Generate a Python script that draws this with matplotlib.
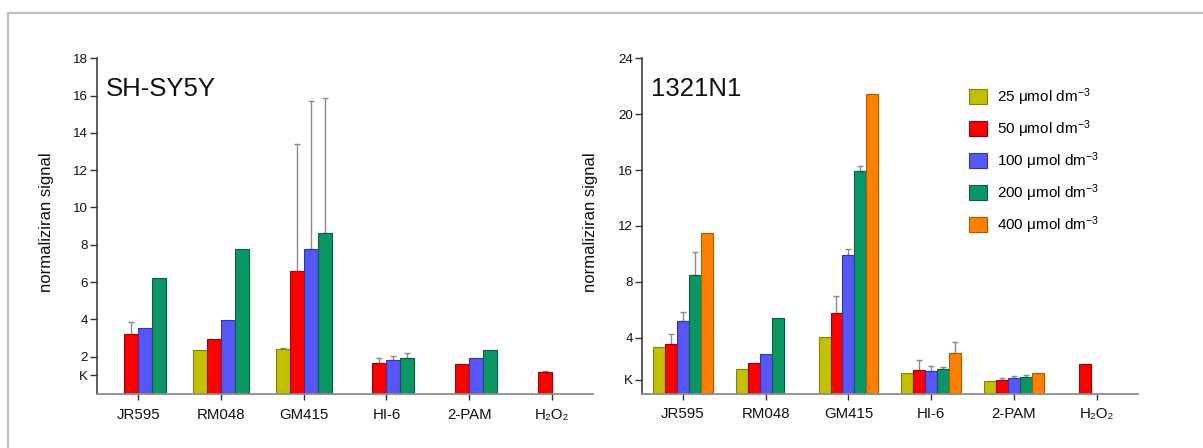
import numpy as np
import matplotlib
matplotlib.use("Agg")
import matplotlib.pyplot as plt
from matplotlib.lines import Line2D
from matplotlib.patches import Patch

plt.rcParams['font.family'] = ['Liberation Sans', 'DejaVu Sans']
plt.rcParams['mathtext.fontset'] = 'custom'
plt.rcParams['mathtext.rm'] = 'Liberation Sans'
plt.rcParams['mathtext.it'] = 'Liberation Sans'

nan = np.nan
categories = ["JR595", "RM048", "GM415", "HI-6", "2-PAM", "H₂O₂"]
series_labels = ["25 μmol dm$^{-3}$", "50 μmol dm$^{-3}$", "100 μmol dm$^{-3}$",
                 "200 μmol dm$^{-3}$", "400 μmol dm$^{-3}$"]
fill_colors = ["#C2C000", "#FF0000", "#5757F7", "#0B9663", "#FF8000"]
edge_colors = ["#858300", "#A00000", "#3535A8", "#06603F", "#B05A00"]

# SH-SY5Y (left panel): 25, 50, 100, 200
left_25 = [nan, 2.36, 2.40, nan, nan, nan]
left_50 = [3.20, 2.95, 6.60, 1.66, 1.61, 1.18]
left_100 = [3.56, 3.95, 7.78, 1.82, 1.91, nan]
left_200 = [6.20, 7.78, 8.64, 1.93, 2.34, nan]
left_err_25 = [nan, nan, 0.08, nan, nan, nan]
left_err_50 = [0.68, nan, 6.83, 0.25, nan, 0.03]
left_err_100 = [nan, nan, 7.95, 0.22, nan, nan]
left_err_200 = [nan, nan, 7.22, 0.27, nan, nan]

# 1321N1 (right panel): 25, 50, 100, 200, 400
right_25 = [3.34, 1.76, 4.05, 1.50, 0.90, nan]
right_50 = [3.55, 2.19, 5.77, 1.69, 0.97, 2.12]
right_100 = [5.20, 2.83, 9.92, 1.62, 1.12, nan]
right_200 = [8.49, 5.41, 15.93, 1.78, 1.19, nan]
right_400 = [11.52, nan, 21.45, 2.88, 1.47, nan]
right_err_25 = [nan, nan, nan, nan, nan, nan]
right_err_50 = [0.70, nan, 1.19, 0.71, 0.12, nan]
right_err_100 = [0.62, nan, 0.43, 0.36, 0.14, nan]
right_err_200 = [1.67, nan, 0.34, 0.15, 0.12, nan]
right_err_400 = [nan, nan, nan, 0.79, nan, nan]

left_ticks = [1, 2, 4, 6, 8, 10, 12, 14, 16, 18]
left_ticklabels = ["K", "2", "4", "6", "8", "10", "12", "14", "16", "18"]
right_ticks = [1, 4, 8, 12, 16, 20, 24]
right_ticklabels = ["K", "4", "8", "12", "16", "20", "24"]

W, H = 1203, 448
fig = plt.figure(figsize=(W / 100, H / 100), dpi=100)
fig.patch.set_facecolor("white")

# figure frame lines (top and left)
fig.add_artist(Line2D([7.5 / W, 1.0], [1 - 13 / H, 1 - 13 / H], transform=fig.transFigure,
                      color="#C0C0C0", lw=1.6))
fig.add_artist(Line2D([7.5 / W, 7.5 / W], [0, 1 - 13 / H], transform=fig.transFigure,
                      color="#C0C0C0", lw=1.6))


def panel(rect, values, errors, colidx, width, ylim, ticks, ticklabels, title, ylabel_x):
    ax = fig.add_axes(rect)
    n = len(values)
    x = np.arange(len(categories))
    for i, (vals, errs, ci) in enumerate(zip(values, errors, colidx)):
        off = (i - (n - 1) / 2) * width
        v = np.array(vals, dtype=float)
        e = np.array(errs, dtype=float)
        m = ~np.isnan(v)
        ax.bar(x[m] + off, v[m], width=width, color=fill_colors[ci],
               edgecolor=edge_colors[ci], linewidth=0.8, zorder=2)
        me = m & ~np.isnan(e)
        if me.any():
            ax.errorbar(x[me] + off, v[me], yerr=[np.zeros(me.sum()), e[me]], fmt='none',
                        ecolor="#8A8A8A", elinewidth=1.0, capsize=2.5, capthick=1.0, zorder=1)
    ax.set_xlim(-0.5, len(categories) - 0.5)
    ax.set_ylim(*ylim)
    ax.set_yticks(ticks)
    ax.set_yticklabels(ticklabels)
    ax.set_xticks(x)
    ax.set_xticklabels(categories, fontsize=10.8)
    for s in ["top", "right"]:
        ax.spines[s].set_visible(False)
    ax.spines["left"].set_color("#333333")
    ax.spines["left"].set_linewidth(1.1)
    ax.spines["bottom"].set_color("#8C8C8C")
    ax.spines["bottom"].set_linewidth(1.3)
    ax.tick_params(axis='y', length=5, width=1, color="#333333", labelsize=9.6, pad=1.5,
                   labelcolor="#111111")
    ax.tick_params(axis='x', length=4.5, width=1, color="#333333", pad=5.5, labelcolor="#111111")
    ax.text(0.019, 0.888, title, transform=ax.transAxes, fontsize=18.5, va='baseline',
            ha='left', color="#111111")
    fig.text(ylabel_x / W, 1 - 222 / H, "normaliziran signal", rotation=90, ha='center',
             va='center', fontsize=12, color="#111111")
    return ax


axL = panel([96.7 / W, 1 - 394 / H, 496.6 / W, 335.7 / H],
            [left_25, left_50, left_100, left_200],
            [left_err_25, left_err_50, left_err_100, left_err_200],
            [0, 1, 2, 3], 0.169, (0, 18), left_ticks, left_ticklabels, "SH-SY5Y", 47)

axR = panel([641.7 / W, 1 - 393.6 / H, 496.3 / W, 335.3 / H],
            [right_25, right_50, right_100, right_200, right_400],
            [right_err_25, right_err_50, right_err_100, right_err_200, right_err_400],
            [0, 1, 2, 3, 4], 0.145, (0, 24), right_ticks, right_ticklabels, "1321N1", 591)

handles = [Patch(facecolor=fill_colors[i], edgecolor=edge_colors[i], linewidth=0.8)
           for i in range(5)]
fig.legend(handles, series_labels, loc='upper left', bbox_to_anchor=(969 / W, 1 - 86 / H),
           frameon=False, fontsize=11, handlelength=1.2, handleheight=1.12,
           handletextpad=0.65, labelspacing=0.68, borderpad=0, borderaxespad=0)

fig.savefig("out.png", dpi=100, facecolor="white")
